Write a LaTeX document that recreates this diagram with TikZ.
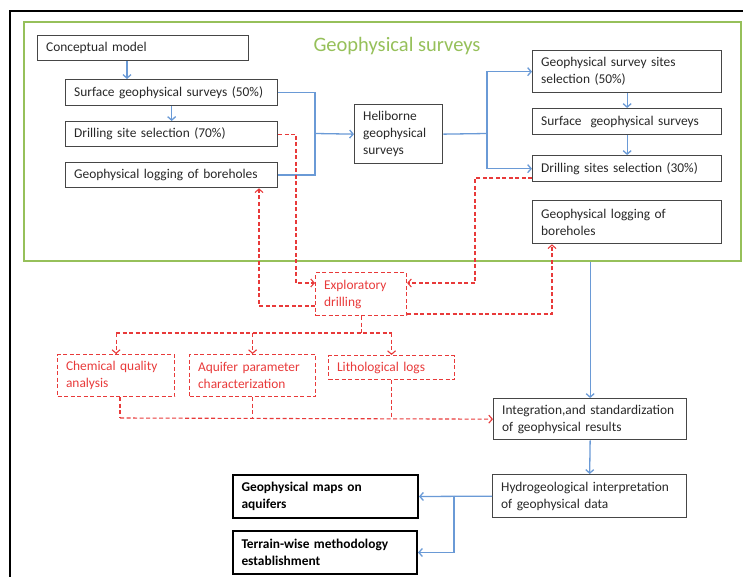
\documentclass[tikz,border=0pt]{standalone}
\usepackage{fontspec}
\setmainfont{Carlito}
\usetikzlibrary{arrows.meta,calc}
\definecolor{myblue}{RGB}{106,154,214}
\definecolor{myred}{RGB}{232,58,58}
\definecolor{mygreen}{RGB}{150,192,90}
\definecolor{mygray}{RGB}{70,70,70}
\definecolor{mytext}{RGB}{40,40,40}
\tikzset{
  boxbase/.style={rectangle, inner xsep=8pt, inner ysep=2pt, align=left,
     font=\fontsize{13.4}{17}\selectfont},
  graybox/.style={boxbase, draw=mygray, line width=1.3pt, fill=white, text=mytext},
  boldbox/.style={boxbase, draw=black, line width=2pt, fill=white,
     font=\fontsize{13.4}{17}\selectfont\bfseries},
  redbox/.style={boxbase, draw=myred, line width=1.1pt, dash pattern=on 4pt off 2.5pt, text=myred},
  bline/.style={draw=myblue, line width=1.3pt},
  barrow/.style={bline, -{Straight Barb[length=3.5pt,width=8pt]}},
  rline/.style={draw=myred, line width=1.1pt, dash pattern=on 4pt off 2.5pt},
  rarrow/.style={rline, -{Straight Barb[length=3.5pt,width=8pt]}},
}
\newcommand\mybox[7]{%
  \pgfmathsetmacro\bw{#5-#3}\pgfmathsetmacro\bh{#6-#4}\pgfmathsetmacro\tw{#5-#3-17}%
  \node[#1, anchor=north west, minimum width=\bw pt, minimum height=\bh pt, text width=\tw pt] (#2) at (#3,#4) {#7};}
\begin{document}
\begin{tikzpicture}[x=1pt,y=-1pt]
\useasboundingbox (0,0) rectangle (743,577);
% outer frame
\draw[black, line width=1.5pt] (743,11) -- (10,11) -- (10,577);
% green frame
\node[draw=mygreen, line width=2pt, anchor=north west, minimum width=717pt, minimum height=239pt, inner sep=0pt] (frame) at (23,21) {};
\node[text=mygreen, font=\fontsize{20.5}{24}\selectfont, inner sep=0pt] (title) at (397,46) {Geophysical surveys};
% boxes
\mybox{graybox}{cm}{37}{35}{248}{60}{Conceptual model}
\mybox{graybox}{sgs}{65}{79}{277}{105}{Surface geophysical surveys (50\%)}
\mybox{graybox}{dss}{65}{121}{277}{146}{Drilling site selection (70\%)}
\mybox{graybox}{glb}{65}{162}{277}{187}{Geophysical logging of boreholes}
\mybox{graybox}{heli}{354}{104}{442}{163}{Heliborne\\geophysical\\surveys}
\mybox{graybox}{gsss}{532}{50}{721}{92}{Geophysical survey sites\\selection (50\%)}
\mybox{graybox}{sgs2}{532}{108}{721}{134}{Surface\ \ geophysical surveys}
\mybox{graybox}{dss2}{532}{155}{721}{181}{Drilling sites selection (30\%)}
\mybox{graybox}{glb2}{532}{200}{721}{243}{Geophysical logging of\\boreholes}
\mybox{redbox}{expl}{315}{272}{406}{315}{Exploratory\\drilling}
\mybox{redbox}{chem}{57}{354}{174}{396}{Chemical quality\\analysis}
\mybox{redbox}{aqui}{189}{354}{315}{396}{Aquifer parameter\\characterization}
\mybox{redbox}{lith}{328}{355}{454}{379}{Lithological logs}
\mybox{graybox}{integ}{493}{398}{686}{439}{Integration,and standardization\\of geophysical results}
\mybox{graybox}{hydro}{492}{474}{686}{517}{Hydrogeological interpretation\\of geophysical data}
\mybox{boldbox}{maps}{232}{474}{417}{517}{Geophysical maps on\\aquifers}
\mybox{boldbox}{terr}{232}{530}{416}{573}{Terrain-wise methodology\\establishment}
% junction coordinates
\coordinate (j1) at (315,133.5);
\coordinate (j2) at (487,133.5);
\coordinate (j3) at (454,495.5);
\coordinate (r1) at (296,283);
\coordinate (r2) at (259,306);
\coordinate (r3) at (475,178);
\coordinate (r4) at (552,314);
\coordinate (r5) at (360,333);
\coordinate (r6) at (120,418);
% blue connectors
\draw[barrow] ([xshift=90pt]cm.south west) -- ([xshift=90pt]cm.south west |- sgs.north);
\draw[barrow] (sgs.south) -- (dss.north);
\draw[bline] (sgs.east) -| (j1) |- (glb.east);
\draw[barrow] (j1) -- (heli.west);
\draw[bline] (heli.east) -- (j2);
\draw[barrow] (j2) |- (gsss.west);
\draw[barrow] (j2) |- (dss2.west);
\draw[barrow] (gsss.south) -- (sgs2.north);
\draw[barrow] (sgs2.south) -- (dss2.north);
\draw[barrow] (integ.north |- frame.south) -- (integ.north);
\draw[barrow] (integ.south) -- (hydro.north);
\draw[barrow] (hydro.west) -- (maps.east);
\draw[barrow] (j3) |- (terr.east);
% red connectors
\draw[rarrow] (dss.east) -| (r1) -- (r1 -| expl.west);
\draw[rarrow] (expl.west |- r2) -- (r2) -- (r2 |- glb.south);
\draw[rarrow] (r3 -| dss2.west) -- (r3) -- (r3 |- r1) -- (r1 -| expl.east);
\draw[rarrow] (expl.east |- r4) -- (r4) -- (r4 |- glb2.south);
\draw[rline] (expl.south) -- (expl.south |- r5);
\draw[rline] (r5 -| chem.north) -- (r5 -| lith.north);
\draw[rarrow] (r5 -| chem.north) -- (chem.north);
\draw[rarrow] (r5 -| aqui.north) -- (aqui.north);
\draw[rarrow] (r5 -| lith.north) -- (lith.north);
\draw[rline] (chem.south -| r6) -- (r6);
\draw[rline] (aqui.south) -- (aqui.south |- r6);
\draw[rline] (lith.south) -- (lith.south |- r6);
\draw[rarrow] (r6) -- (integ.west);
\end{tikzpicture}
\end{document}
